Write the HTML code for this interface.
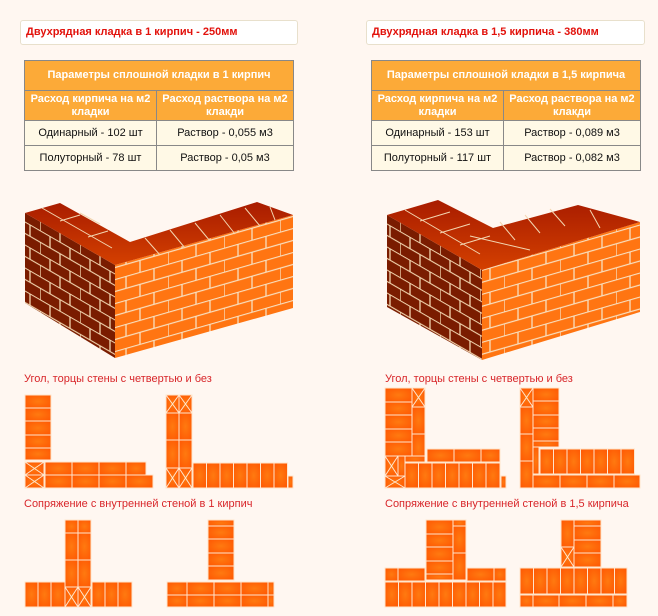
<!DOCTYPE html>
<html><head><meta charset="utf-8"><style>
*{margin:0;padding:0;box-sizing:border-box}
body{width:658px;height:616px;background:#fff7f1;position:relative;overflow:hidden;font-family:"Liberation Sans",Arial,sans-serif}
.hd{position:absolute;top:20px;height:25px;background:#fff;border:1px solid #e8e0cc;border-radius:3px;color:#e2120c;font-weight:bold;font-size:11px;line-height:23px;padding-left:5px}
table{position:absolute;top:60px;border-collapse:collapse;font-size:11px}
td{border:1px solid #888;text-align:center;color:#111}
td.h{background:#fcaa38;color:#fff;font-weight:bold;line-height:13px}
td.r{background:#fff9e6;height:25px}
.lb{position:absolute;font-size:11px;color:#d8262a}
svg{position:absolute;left:0;top:0}
</style></head><body>
<div class="hd" style="left:20px;width:278px">Двухрядная кладка в 1 кирпич - 250мм</div>
<div class="hd" style="left:366px;width:279px">Двухрядная кладка в 1,5 кирпича - 380мм</div>
<table style="left:24px;width:270px">
<tr><td class="h" colspan="2" style="height:30px">Параметры сплошной кладки в 1 кирпич</td></tr>
<tr><td class="h" style="height:30px;width:132px">Расход кирпича на м2 кладки</td><td class="h">Расход раствора на м2 клакди</td></tr>
<tr><td class="r">Одинарный - 102 шт</td><td class="r">Раствор - 0,055 м3</td></tr>
<tr><td class="r">Полуторный - 78 шт</td><td class="r">Раствор - 0,05 м3</td></tr>
</table>
<table style="left:371px;width:270px">
<tr><td class="h" colspan="2" style="height:30px">Параметры сплошной кладки в 1,5 кирпича</td></tr>
<tr><td class="h" style="height:30px;width:132px">Расход кирпича на м2 кладки</td><td class="h">Расход раствора на м2 клакди</td></tr>
<tr><td class="r">Одинарный - 153 шт</td><td class="r">Раствор - 0,089 м3</td></tr>
<tr><td class="r">Полуторный - 117 шт</td><td class="r">Раствор - 0,082 м3</td></tr>
</table>
<div class="lb" style="left:24px;top:373px">Угол, торцы стены с четвертью и без</div>
<div class="lb" style="left:385px;top:373px">Угол, торцы стены с четвертью и без</div>
<div class="lb" style="left:24px;top:498px">Сопряжение с внутренней стеной в 1 кирпич</div>
<div class="lb" style="left:385px;top:498px">Сопряжение с внутренней стеной в 1,5 кирпича</div>
<svg width="658" height="616" viewBox="0 0 658 616">
<defs>
<pattern id="pl" width="40" height="23" patternUnits="userSpaceOnUse" patternTransform="skewY(30)">
<rect width="40" height="23" fill="#7a1c00"/>
<path d="M0 0.5H40M0 12H40M10 0V11.5M30 0V11.5M0 11.5V23M20 11.5V23" stroke="#f3d6b0" stroke-width="1.3"/>
</pattern>
<pattern id="pr" width="56" height="24" patternUnits="userSpaceOnUse" patternTransform="skewY(-16)">
<rect width="56" height="24" fill="#ff7512"/>
<path d="M0 0.5H56M0 12.5H56M14 0V12M42 0V12M0 12V24M28 12V24" stroke="#f8e0c0" stroke-width="1.3"/>
</pattern>
<linearGradient id="tg" x1="0" y1="0" x2="0" y2="1"><stop offset="0" stop-color="#a81c00"/><stop offset="1" stop-color="#d44000"/></linearGradient>
<radialGradient id="br" cx="0.5" cy="0.5" r="0.8"><stop offset="0" stop-color="#ff7a10"/><stop offset="1" stop-color="#ff5000"/></radialGradient>
</defs>
<polygon points="25,213 115,265 115,358 25,303" fill="url(#pl)"/>
<polygon points="115,265 293,215 293,308 115,358" fill="url(#pr)"/>
<polygon points="25,213 60,203 130,242 257,202 293,215 115,265" fill="url(#tg)"/>
<path d="M42,208 L112,248 M60,221 L80,215 M88,237 L108,231 M80,213 L100,224" stroke="#f3d6b0" stroke-width="1" fill="none"/>
<path d="M145,238 L160,255 M170,230 L185,248 M195,223 L210,241 M220,215 L235,234 M245,208 L260,226 M270,207 L275,220" stroke="#f3d6b0" stroke-width="1"/>
<polygon points="387,215 482,270 482,360 387,307" fill="url(#pl)"/>
<polygon points="482,270 640,222 640,312 482,360" fill="url(#pr)"/>
<polygon points="387,215 438,200 493,228 578,205 640,222 482,270" fill="url(#tg)"/>
<path d="M405,210 L480,254 M420,221 L450,212 M440,233 L470,224 M460,245 L490,236 M470,236 L530,250 M500,222 L515,240 M525,215 L540,233 M550,209 L565,226 M590,210 L600,228" stroke="#f3d6b0" stroke-width="1" fill="none"/>
<g fill="url(#br)" stroke="#ffe6cc" stroke-width="1">
<rect x="25" y="395" width="26" height="13"/><rect x="25" y="408" width="26" height="13"/><rect x="25" y="421" width="26" height="14"/><rect x="25" y="435" width="26" height="13"/><rect x="25" y="448" width="26" height="12"/>
<rect x="25" y="462" width="19" height="13"/><rect x="25" y="475" width="19" height="13"/>
<rect x="45" y="462" width="27" height="13"/><rect x="72" y="462" width="27" height="13"/><rect x="99" y="462" width="27" height="13"/><rect x="126" y="462" width="20" height="13"/>
<rect x="45" y="475" width="27" height="13"/><rect x="72" y="475" width="27" height="13"/><rect x="99" y="475" width="27" height="13"/><rect x="126" y="475" width="27" height="13"/>
<rect x="166" y="395" width="13" height="18"/><rect x="179" y="395" width="13" height="18"/>
<rect x="166" y="413" width="13" height="27"/><rect x="179" y="413" width="13" height="27"/>
<rect x="166" y="440" width="13" height="28"/><rect x="179" y="440" width="13" height="28"/>
<rect x="166" y="468" width="13" height="20"/><rect x="179" y="468" width="13" height="20"/>
<rect x="193" y="463" width="13.5" height="25"/><rect x="206.5" y="463" width="13.5" height="25"/><rect x="220" y="463" width="13.5" height="25"/><rect x="233.5" y="463" width="13.5" height="25"/><rect x="247" y="463" width="13.5" height="25"/><rect x="260.5" y="463" width="13.5" height="25"/><rect x="274" y="463" width="13.5" height="25"/><rect x="288" y="476" width="5" height="12"/>
<rect x="65" y="520" width="13" height="13"/><rect x="78" y="520" width="13" height="13"/>
<rect x="65" y="533" width="13" height="27"/><rect x="78" y="533" width="13" height="27"/>
<rect x="65" y="560" width="13" height="27"/><rect x="78" y="560" width="13" height="27"/>
<rect x="65" y="587" width="13" height="20"/><rect x="78" y="587" width="13" height="20"/>
<rect x="25" y="582" width="13" height="25"/><rect x="38" y="582" width="13" height="25"/><rect x="51" y="582" width="14" height="25"/>
<rect x="92" y="582" width="13" height="25"/><rect x="105" y="582" width="13" height="25"/><rect x="118" y="582" width="14" height="25"/>
<rect x="208" y="520" width="26" height="6"/><rect x="208" y="526" width="26" height="13"/><rect x="208" y="539" width="26" height="14"/><rect x="208" y="553" width="26" height="13"/><rect x="208" y="566" width="26" height="14"/>
<rect x="167" y="582" width="20" height="13"/><rect x="187" y="582" width="27" height="13"/><rect x="214" y="582" width="27" height="13"/><rect x="241" y="582" width="27" height="13"/><rect x="268" y="582" width="6" height="13"/>
<rect x="167" y="595" width="20" height="12"/><rect x="187" y="595" width="27" height="12"/><rect x="214" y="595" width="27" height="12"/><rect x="241" y="595" width="27" height="12"/><rect x="268" y="595" width="6" height="12"/>
<rect x="385" y="388" width="27" height="14"/><rect x="385" y="402" width="27" height="13"/><rect x="385" y="415" width="27" height="14"/><rect x="385" y="429" width="27" height="13"/><rect x="385" y="442" width="27" height="14"/>
<rect x="412" y="388" width="13" height="19"/><rect x="412" y="407" width="13" height="27"/><rect x="412" y="434" width="13" height="27"/>
<rect x="385" y="456" width="13" height="20"/><rect x="398" y="456" width="7" height="20"/><rect x="385" y="476" width="20" height="12"/>
<rect x="405" y="456" width="20" height="6"/>
<rect x="427" y="449" width="27" height="13"/><rect x="454" y="449" width="27" height="13"/><rect x="481" y="449" width="19" height="13"/>
<rect x="405" y="463" width="13.5" height="25"/><rect x="418.5" y="463" width="13.5" height="25"/><rect x="432" y="463" width="13.5" height="25"/><rect x="445.5" y="463" width="13.5" height="25"/><rect x="459" y="463" width="13.5" height="25"/><rect x="472.5" y="463" width="13.5" height="25"/><rect x="486" y="463" width="14" height="25"/><rect x="501" y="476" width="5" height="12"/>
<rect x="520" y="388" width="13" height="19"/><rect x="520" y="407" width="13" height="27"/><rect x="520" y="434" width="13" height="27"/><rect x="520" y="461" width="13" height="27"/>
<rect x="533" y="388" width="26" height="13"/><rect x="533" y="401" width="26" height="14"/><rect x="533" y="415" width="26" height="13"/><rect x="533" y="428" width="26" height="13"/><rect x="533" y="441" width="26" height="6"/>
<rect x="533" y="447" width="6" height="27"/>
<rect x="540" y="449" width="13.5" height="25"/><rect x="553.5" y="449" width="13.5" height="25"/><rect x="567" y="449" width="13.5" height="25"/><rect x="580.5" y="449" width="13.5" height="25"/><rect x="594" y="449" width="13.5" height="25"/><rect x="607.5" y="449" width="13.5" height="25"/><rect x="621" y="449" width="13.5" height="25"/>
<rect x="533" y="475" width="27" height="13"/><rect x="560" y="475" width="27" height="13"/><rect x="587" y="475" width="27" height="13"/><rect x="614" y="475" width="26" height="13"/>
<rect x="426" y="520" width="27" height="14"/><rect x="426" y="534" width="27" height="13"/><rect x="426" y="547" width="27" height="14"/><rect x="426" y="561" width="27" height="13"/><rect x="426" y="574" width="27" height="6"/>
<rect x="453" y="520" width="13" height="6"/><rect x="453" y="526" width="13" height="27"/><rect x="453" y="553" width="13" height="27"/>
<rect x="385" y="568" width="13" height="13"/><rect x="398" y="568" width="27" height="13"/>
<rect x="467" y="568" width="27" height="13"/><rect x="494" y="568" width="12" height="13"/>
<rect x="385" y="582" width="13.5" height="25"/><rect x="398.5" y="582" width="13.5" height="25"/><rect x="412" y="582" width="13.5" height="25"/><rect x="425.5" y="582" width="13.5" height="25"/><rect x="439" y="582" width="13.5" height="25"/><rect x="452.5" y="582" width="13.5" height="25"/><rect x="466" y="582" width="13.5" height="25"/><rect x="479.5" y="582" width="13.5" height="25"/><rect x="493" y="582" width="13" height="25"/>
<rect x="561" y="520" width="13" height="27"/><rect x="561" y="547" width="13" height="20"/>
<rect x="574" y="520" width="27" height="6"/><rect x="574" y="526" width="27" height="14"/><rect x="574" y="540" width="27" height="13"/><rect x="574" y="553" width="27" height="14"/>
<rect x="520" y="568" width="13.5" height="26"/><rect x="533.5" y="568" width="13.5" height="26"/><rect x="547" y="568" width="13.5" height="26"/><rect x="560.5" y="568" width="13.5" height="26"/><rect x="574" y="568" width="13.5" height="26"/><rect x="587.5" y="568" width="13.5" height="26"/><rect x="601" y="568" width="13.5" height="26"/><rect x="614.5" y="568" width="12.5" height="26"/>
<rect x="520" y="595" width="13" height="12"/><rect x="533" y="595" width="26" height="12"/><rect x="559" y="595" width="27" height="12"/><rect x="586" y="595" width="27" height="12"/><rect x="613" y="595" width="14" height="12"/>
</g>
<g stroke="#ffe6cc" stroke-width="1">
<path d="M25,462L44,475M44,462L25,475M25,475L44,488M44,475L25,488"/>
<path d="M166,395L179,413M179,395L166,413M179,395L192,413M192,395L179,413M166,468L179,488M179,468L166,488M179,468L192,488M192,468L179,488"/>
<path d="M65,587L78,607M78,587L65,607M78,587L91,607M91,587L78,607"/>
<path d="M412,388L425,407M425,388L412,407M385,456L398,476M398,456L385,476M385,476L405,488M405,476L385,488"/>
<path d="M520,388L533,407M533,388L520,407"/>
<path d="M561,547L574,567M574,547L561,567"/>
</g>
</svg>
</body></html>
